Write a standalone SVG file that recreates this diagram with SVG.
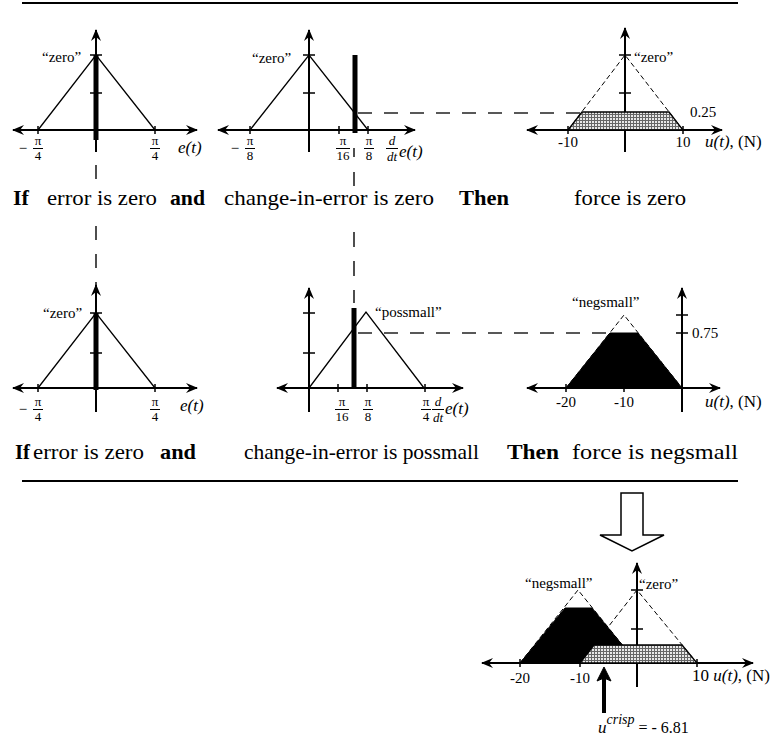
<svg xmlns="http://www.w3.org/2000/svg" width="777" height="738" viewBox="0 0 777 738">
<style>
.ax{stroke:#000;stroke-width:2;fill:none}
.mf{stroke:#000;stroke-width:1.3;fill:none}
.mfd{stroke:#000;stroke-width:1;stroke-dasharray:5 3;fill:none}
.tk{stroke:#000;stroke-width:1.5}
.bar{stroke:#000;stroke-width:5}
.fb{stroke:#000;stroke-width:1}
.cn{stroke:#222;stroke-width:1.6;stroke-dasharray:14 12;fill:none}
.rule{stroke:#000;stroke-width:2}
text{font-family:"Liberation Serif","Times New Roman",serif;fill:#000}
.row{font-size:22px}
.b{font-weight:bold}
.lbl{font-size:15px}
.num{font-size:15px;text-anchor:middle}
.fr{font-size:13px;text-anchor:middle}
.mn{font-size:15px;text-anchor:middle}
.it{font-style:italic}
.var{font-size:17px}
</style>
<defs>
<marker id="ah" viewBox="0 0 12 10" refX="11" refY="5" markerWidth="12" markerHeight="10" markerUnits="userSpaceOnUse" orient="auto-start-reverse">
<path d="M0,0 L12,5 L0,10 L4,5 Z" fill="#000"/>
</marker>
<pattern id="hatch" width="3" height="3" patternUnits="userSpaceOnUse">
<rect width="3" height="3" fill="#e8e8e8"/>
<path d="M0,0.5H3M0.5,0V3" stroke="#666" stroke-width="1"/>
</pattern>
</defs>
<rect width="777" height="738" fill="#fff"/>
<line class="rule" x1="22" y1="3" x2="738" y2="3"/>
<line class="rule" x1="22" y1="481" x2="738" y2="481"/>

<g id="connectors">
<line class="cn" x1="96" y1="165" x2="96" y2="181"/>
<line class="cn" x1="96" y1="226" x2="96" y2="290" style="stroke-dasharray:14 14"/>
<line class="cn" x1="354" y1="148" x2="354" y2="157"/>
<line class="cn" x1="354" y1="172" x2="354" y2="186"/>
<line class="cn" x1="354" y1="232" x2="354" y2="303" style="stroke-dasharray:15 14"/>
<line class="cn" x1="358" y1="113" x2="582" y2="113"/>
<line class="cn" x1="358" y1="333" x2="610" y2="333"/>
</g>

<g id="g-error-zero-1">
<line class="ax" x1="13" y1="130" x2="197" y2="130" marker-start="url(#ah)" marker-end="url(#ah)"/>
<line class="ax" x1="96" y1="152" x2="96" y2="30" marker-end="url(#ah)"/>
<path class="tk" d="M38,126V134M155,126V134M90,55H102M90,93H102"/>
<polyline class="mf" points="38,130 96,55 155,130"/>
<line class="bar" x1="96" y1="55" x2="96" y2="140"/>
<text class="lbl" x="42" y="62">“zero”</text>
<text class="mn" x="23" y="153">−</text>
<text class="fr" x="38" y="145">π</text><line class="fb" x1="33" y1="148.5" x2="43" y2="148.5"/><text class="fr" x="38" y="160">4</text>
<text class="fr" x="155" y="145">π</text><line class="fb" x1="150" y1="148.5" x2="160" y2="148.5"/><text class="fr" x="155" y="160">4</text>
<text class="var it" x="178" y="153">e(t)</text>
</g>

<g id="g-cerror-zero-1">
<line class="ax" x1="218" y1="130" x2="415" y2="130" marker-start="url(#ah)" marker-end="url(#ah)"/>
<line class="ax" x1="309" y1="152" x2="309" y2="30" marker-end="url(#ah)"/>
<path class="tk" d="M250,126V134M339,126V134M368,126V134M303,55H315M303,93H315"/>
<polyline class="mf" points="250,130 309,55 368,130"/>
<line class="bar" x1="355" y1="55" x2="355" y2="133"/>
<text class="lbl" x="252" y="63">“zero”</text>
<text class="mn" x="235" y="153">−</text>
<text class="fr" x="250" y="145">π</text><line class="fb" x1="245" y1="148.5" x2="255" y2="148.5"/><text class="fr" x="250" y="160">8</text>
<text class="fr" x="343" y="145">π</text><line class="fb" x1="336" y1="148.5" x2="350" y2="148.5"/><text class="fr" x="343" y="160">16</text>
<text class="fr" x="369" y="145">π</text><line class="fb" x1="364" y1="148.5" x2="374" y2="148.5"/><text class="fr" x="369" y="160">8</text>
<text class="fr it" x="392" y="145">d</text><line class="fb" x1="386" y1="148.5" x2="398" y2="148.5"/><text class="fr it" x="392" y="161">dt</text>
<text class="var it" x="399" y="157">e(t)</text>
</g>

<g id="g-force-zero-1">
<line class="ax" x1="527" y1="130" x2="722" y2="130" marker-start="url(#ah)" marker-end="url(#ah)"/>
<line class="ax" x1="625" y1="152" x2="625" y2="28" marker-end="url(#ah)"/>
<path class="tk" d="M568,126V134M683,126V134M619,55H631M619,93H631"/>
<polyline class="mfd" points="568,130 625,55 683,130"/>
<polygon points="568,130 582,112 669,112 683,130" fill="url(#hatch)" stroke="#000" stroke-width="1.3"/>
<text class="lbl" x="634" y="62">“zero”</text>
<text class="lbl" x="690" y="117">0.25</text>
<text class="num" x="568" y="147">-10</text>
<text class="num" x="683" y="147">10</text>
<text class="var" x="705" y="147"><tspan class="it">u(t)</tspan>, (N)</text>
</g>

<g id="rule-1">
<text class="row b" x="13" y="205" textLength="16" lengthAdjust="spacingAndGlyphs">If</text>
<text class="row" x="47" y="205" textLength="110" lengthAdjust="spacingAndGlyphs">error is zero</text>
<text class="row b" x="170" y="205" textLength="35" lengthAdjust="spacingAndGlyphs">and</text>
<text class="row" x="224" y="205" textLength="210" lengthAdjust="spacingAndGlyphs">change-in-error is zero</text>
<text class="row b" x="459" y="205" textLength="50" lengthAdjust="spacingAndGlyphs">Then</text>
<text class="row" x="574" y="205" textLength="112" lengthAdjust="spacingAndGlyphs">force is zero</text>
</g>

<g id="g-error-zero-2">
<line class="ax" x1="13" y1="388" x2="197" y2="388" marker-start="url(#ah)" marker-end="url(#ah)"/>
<line class="ax" x1="96" y1="412" x2="96" y2="285" marker-end="url(#ah)"/>
<path class="tk" d="M38,384V392M155,384V392M90,313H102M90,353H102"/>
<polyline class="mf" points="38,388 96,313 155,388"/>
<line class="bar" x1="96" y1="313" x2="96" y2="390"/>
<text class="lbl" x="43" y="318">“zero”</text>
<text class="mn" x="23" y="414">−</text>
<text class="fr" x="38" y="406">π</text><line class="fb" x1="33" y1="409.5" x2="43" y2="409.5"/><text class="fr" x="38" y="421">4</text>
<text class="fr" x="155" y="406">π</text><line class="fb" x1="150" y1="409.5" x2="160" y2="409.5"/><text class="fr" x="155" y="421">4</text>
<text class="var it" x="180" y="411">e(t)</text>
</g>

<g id="g-cerror-possmall-2">
<line class="ax" x1="277" y1="388" x2="463" y2="388" marker-start="url(#ah)" marker-end="url(#ah)"/>
<line class="ax" x1="309" y1="412" x2="309" y2="288" marker-end="url(#ah)"/>
<path class="tk" d="M338,384V392M367,384V392M425,384V392M303,313H315M303,353H315"/>
<polyline class="mf" points="309,388 366,312 424,388"/>
<line class="bar" x1="354" y1="308" x2="354" y2="388"/>
<text class="lbl" x="375" y="317">“possmall”</text>
<text class="fr" x="342" y="406">π</text><line class="fb" x1="335" y1="409.5" x2="349" y2="409.5"/><text class="fr" x="342" y="421">16</text>
<text class="fr" x="368" y="406">π</text><line class="fb" x1="363" y1="409.5" x2="373" y2="409.5"/><text class="fr" x="368" y="421">8</text>
<text class="fr" x="426" y="406">π</text><line class="fb" x1="421" y1="409.5" x2="431" y2="409.5"/><text class="fr" x="426" y="421">4</text>
<text class="fr it" x="438" y="406">d</text><line class="fb" x1="432" y1="409.5" x2="444" y2="409.5"/><text class="fr it" x="438" y="422">dt</text>
<text class="var it" x="445" y="414">e(t)</text>
</g>

<g id="g-force-negsmall-2">
<line class="ax" x1="527" y1="388" x2="720" y2="388" marker-start="url(#ah)" marker-end="url(#ah)"/>
<line class="ax" x1="682" y1="412" x2="682" y2="288" marker-end="url(#ah)"/>
<path class="tk" d="M566,384V392M624,384V392M676,315H688M676,333H688"/>
<polyline class="mfd" points="566,388 624,315 682,388"/>
<polygon points="566,388 610,333 638,333 682,388" fill="#000" stroke="#000" stroke-width="1"/>
<text class="lbl" x="572" y="307">“negsmall”</text>
<text class="lbl" x="692" y="338">0.75</text>
<text class="num" x="566" y="407">-20</text>
<text class="num" x="624" y="407">-10</text>
<text class="var" x="705" y="407"><tspan class="it">u(t)</tspan>, (N)</text>
</g>

<g id="rule-2">
<text class="row b" x="15" y="459" textLength="15" lengthAdjust="spacingAndGlyphs">If</text>
<text class="row" x="33" y="459" textLength="111" lengthAdjust="spacingAndGlyphs">error is zero</text>
<text class="row b" x="160" y="459" textLength="36" lengthAdjust="spacingAndGlyphs">and</text>
<text class="row" x="244" y="459" textLength="235" lengthAdjust="spacingAndGlyphs">change-in-error is possmall</text>
<text class="row b" x="507" y="459" textLength="52" lengthAdjust="spacingAndGlyphs">Then</text>
<text class="row" x="572" y="459" textLength="166" lengthAdjust="spacingAndGlyphs">force is negsmall</text>
</g>

<g id="implies-arrow">
<path d="M621,493 H643 V535 H664 L632,551 L600,535 H621 Z" fill="#fff" stroke="#000" stroke-width="1.5"/>
</g>

<g id="g-combined">
<line class="ax" x1="482" y1="663" x2="753" y2="663" marker-start="url(#ah)" marker-end="url(#ah)"/>
<line class="ax" x1="637" y1="687" x2="637" y2="563" marker-end="url(#ah)"/>
<polyline class="mfd" points="520,663 578,590 637,663"/>
<polyline class="mfd" points="580,663 637,590 697,663"/>
<polygon points="520,663 565,608 592,608 637,663" fill="#000" stroke="#000" stroke-width="1"/>
<polygon points="580,663 594,645 682,645 697,663" fill="url(#hatch)" stroke="#000" stroke-width="1.3"/>
<path class="tk" d="M520,659V667M580,659V667M697,659V667M631,590H643M631,629H643"/>
<text class="lbl" x="525" y="588">“negsmall”</text>
<text class="lbl" x="639" y="589">“zero”</text>
<text class="num" x="520" y="683">-20</text>
<text class="num" x="580" y="683">-10</text>
<text class="var" x="692" y="681">10 <tspan class="it">u(t)</tspan>, (N)</text>
</g>

<g id="crisp">
<line x1="604" y1="713" x2="604" y2="677" stroke="#000" stroke-width="4"/>
<path d="M604,667 L611,681 L604,678 L597,681 Z" fill="#000" stroke="#000" stroke-width="1"/>
<text class="var" x="598" y="733"><tspan class="it">u</tspan><tspan class="it" font-size="14" dy="-9">crisp</tspan><tspan dy="9" font-size="16"> = - 6.81</tspan></text>
</g>
</svg>
